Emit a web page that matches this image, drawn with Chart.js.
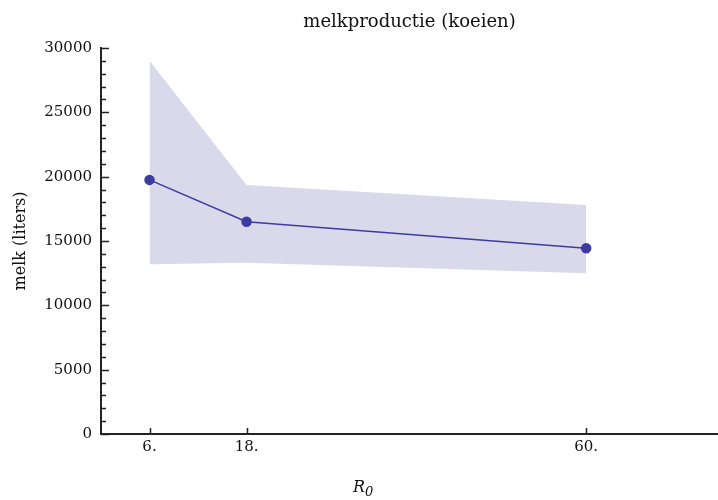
<!DOCTYPE html>
<html>
<head>
<meta charset="utf-8">
<script src="https://cdn.jsdelivr.net/npm/chart.js@4/dist/chart.umd.min.js"></script>
<style>
  body { margin: 0; background: #fff; }
  #chart { display: block; }
</style>
</head>
<body>
<canvas id="chart" width="718" height="500"></canvas>
<script>
// values
var R0 = [6, 18, 60];
var melk = [19750, 16500, 14430];
var bandUpper = [29000, 19350, 17800];
var bandLower = [13200, 13300, 12500];
var xTicks = [6, 18, 60];

var lineColor = "rgb(60,60,160)";
var bandColor = "rgb(217,217,235)";
var serif = "'DejaVu Serif', 'Liberation Serif', serif";

var pts = (ys) => R0.map((x, i) => ({x: x, y: ys[i]}));

// inward tick marks, titles drawn like the original
var decor = {
  id: "decor",
  afterDraw: (chart) => {
    var ctx = chart.ctx;
    var area = chart.chartArea;
    var xs = chart.scales.x, ys = chart.scales.y;
    ctx.save();
    ctx.strokeStyle = "#222";
    ctx.lineWidth = 1.5;
    ctx.beginPath();
    for(var v = 0;v <= 30000;v += 1000) {
      var py = Math.round(ys.getPixelForValue(v)) + 0.5;
      var len = v % 5000 == 0 ? 8 : 5;
      ctx.moveTo(area.left, py);
      ctx.lineTo(area.left + len, py);
    }
    for(var j = 0;j < xTicks.length;j++) {
      var px = Math.round(xs.getPixelForValue(xTicks[j])) + 0.5;
      ctx.moveTo(px, area.bottom);
      ctx.lineTo(px, area.bottom - 6);
    }
    ctx.stroke();

    ctx.fillStyle = "#111";
    ctx.textAlign = "center";
    ctx.textBaseline = "middle";
    ctx.font = "18px " + serif;
    ctx.fillText("melkproductie (koeien)", (area.left + area.right) / 2, 22);

    ctx.font = "italic 16px " + serif;
    ctx.textAlign = "right";
    ctx.fillText("R", 365, 488);
    ctx.font = "italic 13px " + serif;
    ctx.textAlign = "left";
    ctx.fillText("0", 365, 493);

    ctx.translate(21, (area.top + area.bottom) / 2);
    ctx.rotate(-Math.PI / 2);
    ctx.textAlign = "center";
    ctx.font = "16px " + serif;
    ctx.fillText("melk (liters)", 0, 0);
    ctx.restore();
  }
};

var chart = new Chart(document.getElementById("chart"), {
  type: "line",
  data: {
    datasets: [
      {data: pts(bandLower), borderWidth: 0, pointRadius: 0, fill: false, backgroundColor: bandColor, order: 3},
      {data: pts(bandUpper), borderWidth: 0, pointRadius: 0, fill: "-1", backgroundColor: bandColor, order: 2},
      {data: pts(melk), borderColor: lineColor, backgroundColor: lineColor, borderWidth: 1.5,
       pointRadius: 4.5, pointHoverRadius: 4.5, fill: false, order: 1}
    ]
  },
  options: {
    responsive: false,
    animation: false,
    layout: {autoPadding: false, padding: {top: 48, right: 0, left: 0, bottom: 0}},
    plugins: {legend: {display: false}, tooltip: {enabled: false}},
    scales: {
      x: {
        type: "linear", min: 0, max: 76.3,
        afterBuildTicks: (s) => { s.ticks = xTicks.map((v) => ({value: v})); },
        afterFit: (s) => { s.height = 66; s.paddingLeft = 0; s.paddingRight = 0; },
        grid: {display: false, drawTicks: false},
        border: {display: true, color: "#222", width: 2},
        ticks: {padding: 4, color: "#111", font: {family: serif, size: 15},
                callback: (v) => v + "."}
      },
      y: {
        min: 0, max: 30000,
        afterFit: (s) => { s.width = 101; s.paddingTop = 0; s.paddingBottom = 0; },
        grid: {display: false, drawTicks: false},
        border: {display: true, color: "#222", width: 2},
        ticks: {stepSize: 5000, padding: 9, color: "#111", font: {family: serif, size: 15},
                callback: (v) => String(v)}
      }
    }
  },
  plugins: [decor]
});
</script>
</body>
</html>
